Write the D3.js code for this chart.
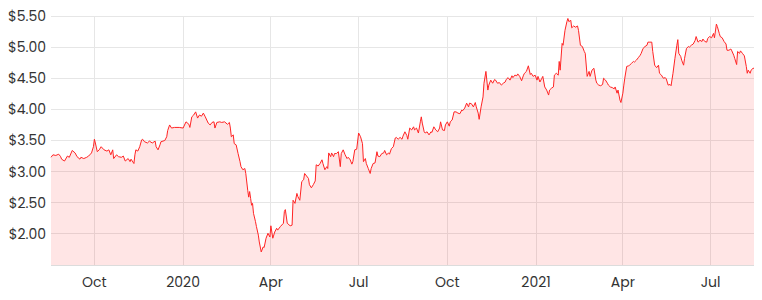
<!DOCTYPE html>
<html>
<head>
<meta charset="utf-8">
<script src="https://cdn.jsdelivr.net/npm/d3@7"></script>
<style>
  body { margin: 0; background: #fff; }
  svg { display: block; font-family: Poppins, Inter, "Noto Sans", sans-serif; }
</style>
</head>
<body>
<div id="chart"></div>
<script>
// Daily closes: [days since start, price]
const startDate = new Date(2019, 7, 17);
const spanDays = 729;
const closes = [
  [0,3.23],[2,3.27],[5,3.26],[8,3.28],[10,3.24],[11,3.20],[14,3.17],[17,3.25],[19,3.23],[22,3.34],
  [25,3.30],[27,3.24],[30,3.20],[31,3.23],[34,3.21],[37,3.23],[39,3.25],[42,3.30],[44,3.40],[45,3.52],
  [46,3.46],[48,3.32],[50,3.35],[52,3.40],[55,3.35],[58,3.33],[60,3.35],[62,3.27],[64,3.35],[65,3.21],
  [68,3.27],[70,3.24],[73,3.23],[75,3.25],[77,3.17],[80,3.21],[82,3.16],[83,3.20],[86,3.13],[87,3.27],
  [88,3.35],[90,3.33],[92,3.40],[94,3.51],[95,3.52],[97,3.48],[100,3.46],[102,3.49],[105,3.46],[108,3.49],
  [109,3.40],[111,3.35],[113,3.43],[114,3.48],[118,3.50],[120,3.56],[121,3.66],[123,3.75],[125,3.70],
  [128,3.71],[133,3.71],[137,3.70],[140,3.80],[143,3.76],[144,3.71],[146,3.88],[148,3.91],[150,3.96],[152,3.86],
  [154,3.91],[156,3.89],[158,3.94],[160,3.88],[163,3.78],[165,3.75],[167,3.79],[169,3.80],[170,3.70],[172,3.79],
  [175,3.80],[177,3.79],[180,3.80],[183,3.76],[185,3.79],[186,3.70],[187,3.56],[189,3.59],[190,3.45],[192,3.43],
  [194,3.29],[196,3.16],[197,3.08],[199,3.03],[201,3.05],[202,2.97],[204,2.70],[205,2.59],[206,2.68],[207,2.57],
  [208,2.46],[209,2.49],[210,2.33],[212,2.20],[213,2.12],[215,1.98],[216,1.87],[218,1.71],[220,1.79],[221,1.78],
  [223,1.93],[225,2.01],[227,1.95],[228,2.13],[230,1.93],[232,2.03],[234,2.09],[235,2.06],[238,2.12],[241,2.17],
  [242,2.36],[243,2.39],[245,2.17],[248,2.13],[250,2.14],[251,2.54],[253,2.49],[255,2.65],[256,2.60],[258,2.54],
  [260,2.84],[262,2.87],[263,2.97],[265,2.93],[267,2.89],[268,2.79],[270,2.74],[272,2.79],[274,2.85],[275,3.11],
  [277,3.09],[279,3.13],[281,3.19],[282,3.13],[284,3.03],[286,3.08],[287,3.05],[288,3.30],[290,3.24],[291,3.30],
  [293,3.24],[294,3.29],[296,3.29],[298,3.32],[300,3.08],[301,3.29],[303,3.35],[305,3.27],[307,3.21],[308,3.23],
  [310,3.20],[312,3.12],[313,3.16],[315,3.35],[317,3.36],[319,3.62],[321,3.56],[323,3.45],[324,3.16],[326,3.21],
  [327,3.13],[329,3.05],[331,2.97],[332,3.05],[334,3.13],[336,3.14],[338,3.32],[339,3.25],[341,3.24],[343,3.29],
  [345,3.30],[346,3.34],[348,3.27],[350,3.30],[351,3.28],[353,3.37],[355,3.40],[357,3.54],[358,3.55],[360,3.52],
  [362,3.55],[364,3.52],[365,3.57],[367,3.64],[369,3.58],[370,3.52],[372,3.70],[374,3.67],[376,3.72],[377,3.67],
  [379,3.70],[381,3.62],[383,3.80],[384,3.88],[385,3.78],[387,3.64],[388,3.62],[390,3.64],[392,3.59],[394,3.64],
  [395,3.63],[397,3.72],[399,3.67],[401,3.64],[403,3.70],[404,3.80],[406,3.67],[408,3.66],[409,3.75],[411,3.80],
  [413,3.73],[414,3.80],[416,3.83],[418,3.96],[420,3.96],[422,3.94],[424,3.93],[426,3.99],[427,3.98],[429,4.02],
  [431,4.10],[433,4.04],[434,4.10],[436,4.09],[438,4.04],[440,4.11],[441,4.04],[443,3.94],[444,3.84],[446,4.04],
  [448,4.20],[449,4.42],[451,4.61],[453,4.31],[454,4.39],[456,4.47],[458,4.42],[460,4.48],[461,4.47],[463,4.42],
  [465,4.43],[467,4.39],[469,4.42],[471,4.44],[472,4.48],[474,4.51],[476,4.47],[478,4.54],[479,4.51],[481,4.55],
  [483,4.54],[484,4.57],[486,4.53],[488,4.46],[490,4.55],[491,4.58],[493,4.61],[495,4.70],[497,4.56],[498,4.58],
  [500,4.53],[502,4.55],[504,4.47],[505,4.53],[507,4.44],[509,4.50],[510,4.53],[512,4.36],[514,4.31],[516,4.23],
  [517,4.31],[519,4.34],[521,4.36],[522,4.55],[524,4.58],[526,4.55],[527,4.77],[528,4.63],[530,5.06],[531,5.03],
  [533,5.27],[535,5.41],[536,5.46],[537,5.41],[539,5.43],[540,5.31],[542,5.34],[544,5.32],[546,5.34],[547,5.27],
  [549,5.03],[551,5.01],[553,4.93],[554,4.90],[556,4.53],[558,4.61],[559,4.53],[561,4.63],[563,4.66],[565,4.47],
  [566,4.42],[568,4.39],[570,4.38],[572,4.40],[573,4.50],[575,4.47],[577,4.42],[578,4.39],[580,4.36],[582,4.35],
  [584,4.33],[585,4.36],[587,4.26],[588,4.31],[590,4.15],[591,4.11],[593,4.26],[594,4.39],[595,4.50],[597,4.69],
  [599,4.70],[600,4.71],[602,4.74],[604,4.77],[605,4.76],[607,4.79],[609,4.83],[611,4.87],[612,4.90],[614,4.98],
  [616,5.01],[618,5.03],[619,5.08],[621,5.08],[623,5.08],[624,4.93],[626,4.71],[628,4.67],[630,4.71],[631,4.58],
  [633,4.55],[635,4.50],[637,4.51],[638,4.49],[640,4.39],[642,4.40],[643,4.38],[645,4.58],[647,4.82],[649,5.03],
  [650,5.12],[651,4.90],[653,4.85],[654,4.79],[656,4.71],[657,4.82],[659,4.98],[661,5.01],[662,5.00],[664,5.03],
  [666,5.05],[668,5.11],[669,5.17],[671,5.08],[673,5.11],[675,5.09],[676,5.13],[678,5.09],[680,5.08],[681,5.14],
  [683,5.17],[685,5.15],[687,5.22],[688,5.15],[690,5.37],[691,5.33],[693,5.22],[694,5.17],[696,5.15],[698,5.09],
  [700,5.05],[701,4.95],[703,4.95],[705,4.97],[706,4.94],[708,4.87],[709,4.82],[711,4.72],[712,4.93],[714,4.90],
  [715,4.94],[717,4.90],[719,4.86],[721,4.69],[722,4.58],[723,4.63],[725,4.58],[726,4.63],[728,4.66],[729,4.66]
];

const yTicks = [2.0, 2.5, 3.0, 3.5, 4.0, 4.5, 5.0, 5.5];
const xTickDates = [
  new Date(2019, 9, 1), new Date(2020, 0, 1), new Date(2020, 3, 1), new Date(2020, 6, 1),
  new Date(2020, 9, 1), new Date(2021, 0, 1), new Date(2021, 3, 1), new Date(2021, 6, 1)
];
const xTickLabels = ['Oct', '2020', 'Apr', 'Jul', 'Oct', '2021', 'Apr', 'Jul'];

const width = 762;
const height = 300;
const margin = { top: 16, right: 8, bottom: 35, left: 51 };

const data = closes.map(d => ({ date: d3.timeDay.offset(startDate, d[0]), price: d[1] }));

const svg = d3.select('#chart')
  .append('svg')
  .attr('width', width)
  .attr('height', height);

const x = d3.scaleTime()
  .domain([startDate, d3.timeDay.offset(startDate, spanDays)])
  .range([margin.left, width - margin.right]);

const y = d3.scaleLinear()
  .domain([1.5, 5.5])
  .range([height - margin.bottom, margin.top]);

// grid
svg.append('g')
  .selectAll('line')
  .data(yTicks)
  .join('line')
  .attr('x1', margin.left)
  .attr('x2', width - margin.right)
  .attr('y1', d => y(d))
  .attr('y2', d => y(d))
  .attr('stroke', '#e6e6e6')
  .attr('stroke-width', 1)
  .attr('shape-rendering', 'crispEdges');

svg.append('g')
  .selectAll('line')
  .data(xTickDates)
  .join('line')
  .attr('x1', d => x(d))
  .attr('x2', d => x(d))
  .attr('y1', margin.top)
  .attr('y2', height - margin.bottom)
  .attr('stroke', '#e6e6e6')
  .attr('stroke-width', 1)
  .attr('shape-rendering', 'crispEdges');

// area + line
const area = d3.area()
  .x(d => x(d.date))
  .y0(y(1.5))
  .y1(d => y(d.price));

const line = d3.line()
  .x(d => x(d.date))
  .y(d => y(d.price));

svg.append('path')
  .datum(data)
  .attr('d', area)
  .attr('fill', 'rgba(255, 0, 0, 0.1)');

svg.append('path')
  .datum(data)
  .attr('d', line)
  .attr('fill', 'none')
  .attr('stroke', '#ff2424')
  .attr('stroke-width', 1)
  .attr('stroke-linejoin', 'round');

// bottom axis line
svg.append('line')
  .attr('x1', margin.left)
  .attr('x2', width - margin.right)
  .attr('y1', y(1.5))
  .attr('y2', y(1.5))
  .attr('stroke', '#dcdcdc')
  .attr('shape-rendering', 'crispEdges');

// y labels
svg.append('g')
  .selectAll('text')
  .data(yTicks)
  .join('text')
  .attr('x', margin.left - 5)
  .attr('y', d => y(d))
  .attr('dy', '0.35em')
  .attr('text-anchor', 'end')
  .attr('font-size', '14px')
  .attr('fill', '#333')
  .text(d => '$' + d.toFixed(2));

// x labels
svg.append('g')
  .selectAll('text')
  .data(xTickDates)
  .join('text')
  .attr('x', d => x(d))
  .attr('y', 287)
  .attr('text-anchor', 'middle')
  .attr('font-size', '14px')
  .attr('fill', '#333')
  .text((d, i) => xTickLabels[i]);
</script>
</body>
</html>
